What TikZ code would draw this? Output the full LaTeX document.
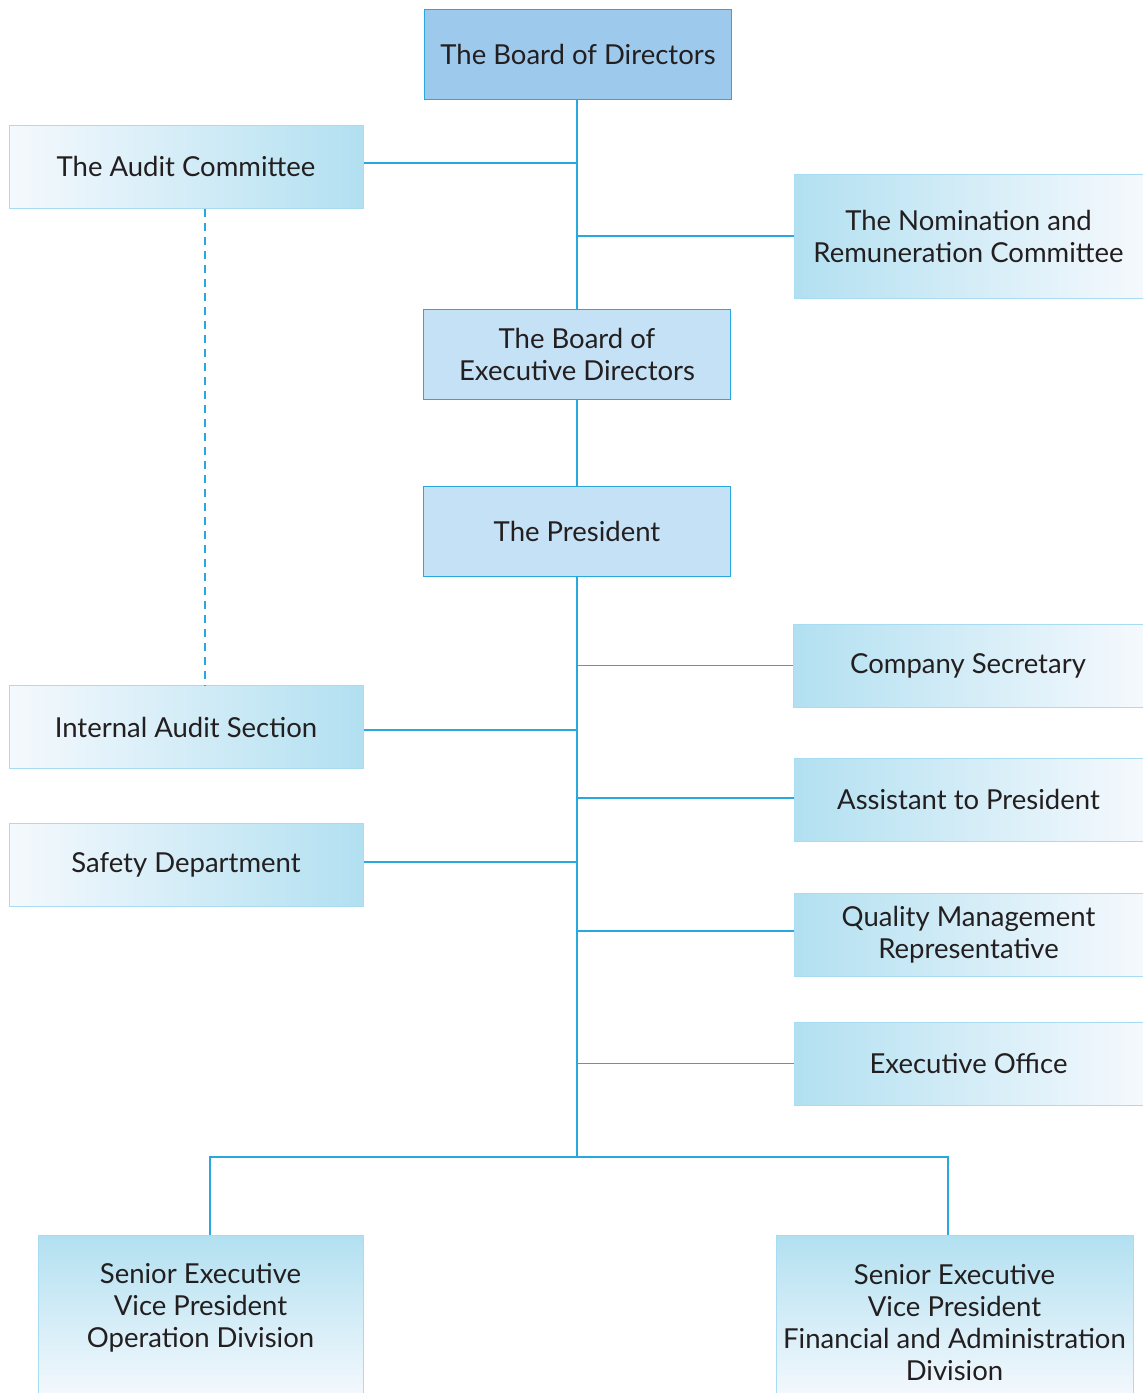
\documentclass[tikz,border=0pt]{standalone}
\usepackage{fontspec}
\setmainfont{Lato}
\definecolor{linec}{HTML}{29A8E0}
\definecolor{cyanl}{HTML}{B2E0F1}
\definecolor{whitel}{HTML}{F5F9FD}
\definecolor{topblue}{HTML}{9DC9EC}
\definecolor{midblue}{HTML}{C5E1F5}
\definecolor{txt}{HTML}{231F20}
\definecolor{edgel}{HTML}{A8DCF2}
\tikzset{
  every node/.style={text=txt, font=\fontsize{27.5}{32}\selectfont, align=center},
  conn/.style={draw=linec, line width=1.3pt},
  solidbox/.style={draw=linec, line width=1pt, minimum width=307, minimum height=90, inner sep=0},
  sidebox/.style={draw=edgel, line width=1pt, minimum width=#1, minimum height=83, inner sep=0},
  lbox/.style={sidebox=354, left color=whitel, right color=cyanl},
  rbox/.style={sidebox=349, left color=cyanl, right color=whitel},
}
\begin{document}
\begin{tikzpicture}[x=1pt,y=-1pt]
\useasboundingbox (0,0) rectangle (1143,1393);
% top
\node[solidbox, fill=topblue] (bod) at (578,54) {The Board of Directors};
\node[lbox] (audit) at (186,166.5) {The Audit Committee};
\node[rbox, minimum height=124] (nom) at (968.5,236) {The Nomination and\\Remuneration Committee};
\node[solidbox, fill=midblue] (bed) at (577,354) {The Board of\\Executive Directors};
\node[solidbox, fill=midblue] (pres) at (577,531) {The President};
\node[rbox, minimum width=350] (cs) at (968,665.5) {Company Secretary};
\node[lbox] (ias) at (186,727) {Internal Audit Section};
\node[rbox] (atp) at (968.5,799.5) {Assistant to President};
\node[lbox] (safety) at (186,864.5) {Safety Department};
\node[rbox] (qmr) at (968.5,934.5) {Quality Management\\Representative};
\node[rbox] (eo) at (968.5,1063.5) {Executive Office};
% bottom boxes
\shade[top color=cyanl, bottom color=whitel, draw=edgel, line width=1pt] (38,1235) rectangle (363,1400);
\shade[top color=cyanl, bottom color=whitel, draw=edgel, line width=1pt] (776,1235) rectangle (1133,1400);
\node[anchor=north] (sevp1) at (200.5,1260) {Senior Executive\\Vice President\\Operation Division};
\node[anchor=north] (sevp2) at (954.5,1261) {Senior Executive\\Vice President\\Financial and Administration\\Division};
\coordinate (c1) at (210,1235);
\coordinate (c2) at (948,1235);
\coordinate (split) at (577,1157);
% connectors
\draw[conn] (bod.south -| bed.north) -- (bed.north);
\draw[conn] (bed.south) -- (pres.north);
\draw[conn] (pres.south) -- (split);
\draw[conn] (audit.east |- 0,163) -- (bed.north |- 0,163);
\draw[conn] (nom.west) -- (nom.west -| bed.north);
\draw[conn] (cs.west) -- (cs.west -| pres.south);
\draw[conn] (ias.east |- 0,730) -- (pres.south |- 0,730);
\draw[conn] (atp.west |- 0,798) -- (pres.south |- 0,798);
\draw[conn] (safety.east |- 0,862) -- (pres.south |- 0,862);
\draw[conn] (qmr.west |- 0,931) -- (pres.south |- 0,931);
\draw[conn] (eo.west) -- (eo.west -| pres.south);
\draw[conn] (c1) |- (split) -| (c2);
\draw[draw=linec, line width=1.1pt, dash pattern=on 8pt off 6pt] ([xshift=19]audit.south) -- ([xshift=19]ias.north);
\end{tikzpicture}
\end{document}
